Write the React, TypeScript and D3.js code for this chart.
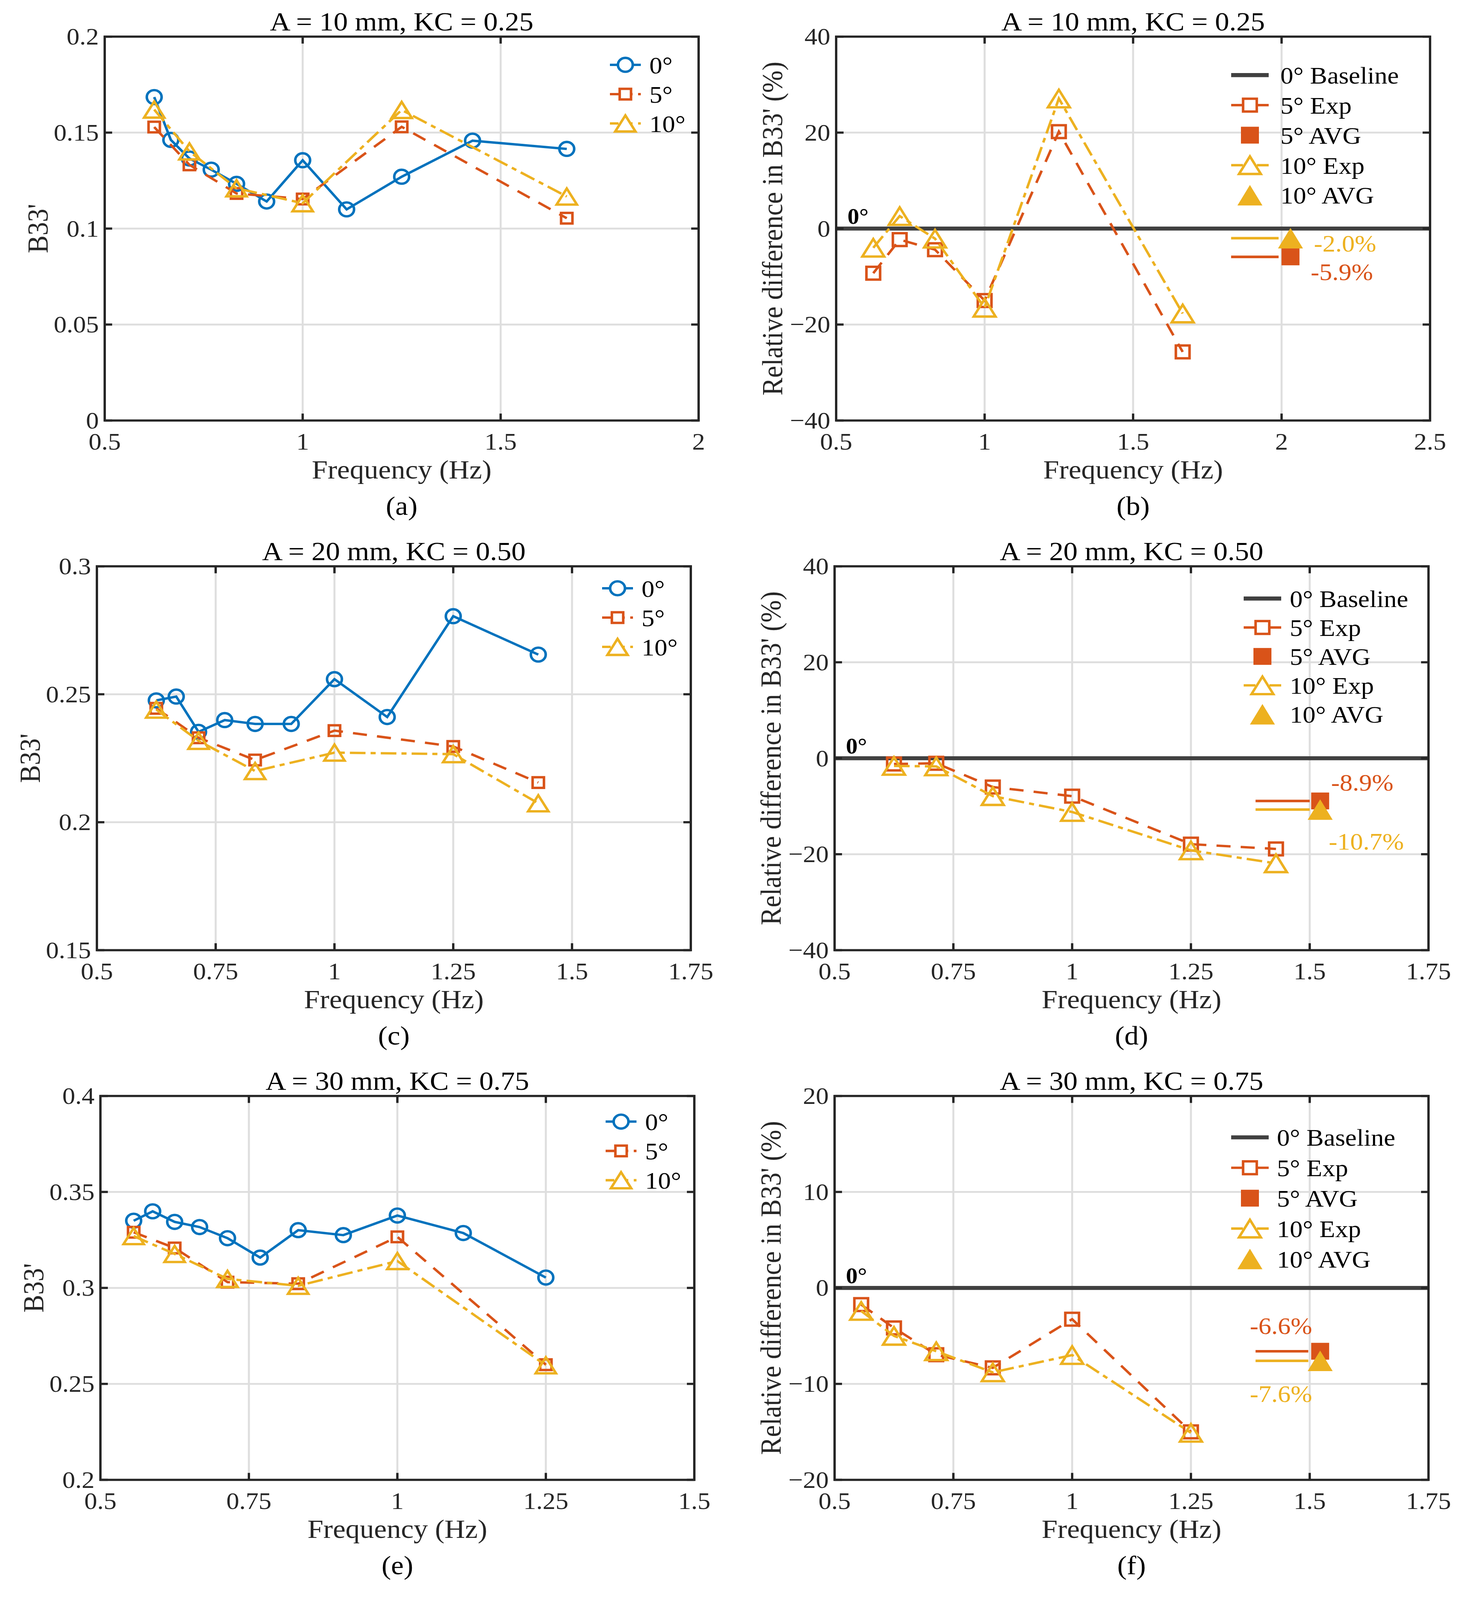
import * as d3 from "d3";

const FONT = "'Liberation Serif', 'Times New Roman', Times, serif";
const BLUE = "#0072BD";
const ORANGE = "#D95319";
const YELLOW = "#EDB120";
const AXIS = "#262626";
const GRID = "#dedede";
const BASE = "#404040";

// ---------- data ----------
// (a) A = 10 mm
const FREQ_A0 = [0.625, 0.667, 0.714, 0.769, 0.833, 0.909, 1.0, 1.111, 1.25, 1.429, 1.667];
const B33_A0 = [0.1685, 0.1462, 0.1365, 0.1307, 0.1233, 0.1141, 0.1356, 0.110, 0.127, 0.1458, 0.1415];
const FREQ_A_TILT = [0.625, 0.714, 0.833, 1.0, 1.25, 1.667];
const B33_A5 = [0.1529, 0.1332, 0.1183, 0.1154, 0.153, 0.1054];
const B33_A10 = [0.162, 0.1402, 0.121, 0.1132, 0.1618, 0.1167];
// (b)
const REL_B5 = [-9.3, -2.3, -4.4, -15.0, 20.2, -25.7];
const REL_B10 = [-4.0, 2.6, -2.1, -16.5, 27.1, -17.7];
const AVG_B = { a5: -5.9, a10: -2.0 };

// (c) A = 20 mm
const FREQ_C0 = [0.625, 0.667, 0.714, 0.769, 0.833, 0.909, 1.0, 1.111, 1.25, 1.429];
const B33_C0 = [0.2476, 0.2491, 0.2353, 0.2399, 0.2384, 0.2384, 0.2559, 0.2411, 0.2805, 0.2655];
const FREQ_C_TILT = [0.625, 0.714, 0.833, 1.0, 1.25, 1.429];
const B33_C5 = [0.2445, 0.233, 0.2243, 0.2358, 0.2296, 0.2155];
const B33_C10 = [0.244, 0.2318, 0.22, 0.2272, 0.2266, 0.2074];
// (d)
const REL_D5 = [-1.2, -1.05, -6.0, -7.9, -17.9, -18.9];
const REL_D10 = [-1.6, -1.7, -7.9, -11.2, -19.2, -21.9];
const AVG_D = { a5: -8.9, a10: -10.7 };

// (e) A = 30 mm
const FREQ_E0 = [0.556, 0.588, 0.625, 0.667, 0.714, 0.769, 0.833, 0.909, 1.0, 1.111, 1.25];
const B33_E0 = [0.335, 0.3399, 0.3344, 0.3317, 0.3259, 0.3158, 0.3301, 0.3275, 0.3377, 0.3286, 0.3054];
const FREQ_E_TILT = [0.556, 0.625, 0.714, 0.833, 1.0, 1.25];
const B33_E5 = [0.329, 0.3208, 0.303, 0.3022, 0.3266, 0.26];
const B33_E10 = [0.327, 0.3177, 0.3047, 0.3011, 0.314, 0.2597];
// (f)
const REL_F5 = [-1.74, -4.17, -6.96, -8.33, -3.26, -15.0];
const REL_F10 = [-2.4, -5.0, -6.6, -8.8, -7.0, -15.1];
const AVG_F = { a5: -6.6, a10: -7.6 };

// tick values
const XT_A = [0.5, 1, 1.5, 2];
const YT_A = [0, 0.05, 0.1, 0.15, 0.2];
const XT_B = [0.5, 1, 1.5, 2, 2.5];
const YT_REL40 = [-40, -20, 0, 20, 40];
const XT_C = [0.5, 0.75, 1, 1.25, 1.5, 1.75];
const YT_C = [0.15, 0.2, 0.25, 0.3];
const XT_E = [0.5, 0.75, 1, 1.25, 1.5];
const YT_E = [0.2, 0.25, 0.3, 0.35, 0.4];
const YT_F = [-20, -10, 0, 10, 20];

// ---------- layout ----------
const W = 3752;
const H = 4368;
const PW = 1520;
const PH = 1048;
const TOPS = [100, 1546, 2992];
const LEFTS_L = [268, 248, 257];
const LEFTS_R = [2140, 2136, 2136];

const LW = 6.5;
const DASH = "36 26";
const DASHDOT = "40 13 13 13";

type Mk = { kind: "o" | "s" | "^"; w: number; h: number };
const MK_O: Mk = { kind: "o", w: 38, h: 38 };
const MK_S_SMALL: Mk = { kind: "s", w: 29, h: 29 };
const MK_T_SMALL: Mk = { kind: "^", w: 52, h: 44 };
const MK_S_BIG: Mk = { kind: "s", w: 35, h: 35 };
const MK_T_BIG: Mk = { kind: "^", w: 56, h: 48 };
const MK_S_FILL: Mk = { kind: "s", w: 46, h: 46 };
const MK_T_FILL: Mk = { kind: "^", w: 64, h: 56 };

function marker(m: Mk, x: number, y: number, color: string, filled: boolean, key: string, fillBg = "none") {
  const common = {
    fill: filled ? color : fillBg,
    stroke: filled ? "none" : color,
    strokeWidth: LW,
  };
  if (m.kind === "o") return <circle key={key} cx={x} cy={y} r={m.w / 2} {...common} />;
  if (m.kind === "s")
    return <rect key={key} x={x - m.w / 2} y={y - m.h / 2} width={m.w} height={m.h} {...common} />;
  const d = `M${x},${y - m.h / 2}L${x + m.w / 2},${y + m.h / 2}L${x - m.w / 2},${y + m.h / 2}Z`;
  return <path key={key} d={d} strokeLinejoin="miter" {...common} />;
}

const fmt = (v: number) => (v < 0 ? "\u2212" + String(-v) : String(v));

interface FrameProps {
  left: number;
  top: number;
  x: d3.ScaleLinear<number, number>;
  y: d3.ScaleLinear<number, number>;
  xTicks: number[];
  yTicks: number[];
  title: string;
  yLabel: string;
  yLabelOff: number;
  tag: string;
  children: any;
}

function Frame({ left, top, x, y, xTicks, yTicks, title, yLabel, yLabelOff, tag, children }: FrameProps) {
  const bottom = top + PH;
  const right = left + PW;
  const cx = left + PW / 2;
  const TL = 19;
  return (
    <g>
      {xTicks.map((t) => (
        <line key={"gx" + t} x1={x(t)} x2={x(t)} y1={top} y2={bottom} stroke={GRID} strokeWidth={5} />
      ))}
      {yTicks.map((t) => (
        <line key={"gy" + t} x1={left} x2={right} y1={y(t)} y2={y(t)} stroke={GRID} strokeWidth={5} />
      ))}
      {children}
      <rect x={left} y={top} width={PW} height={PH} fill="none" stroke={AXIS} strokeWidth={6} />
      {xTicks.map((t) => (
        <g key={"tx" + t}>
          <line x1={x(t)} x2={x(t)} y1={bottom} y2={bottom - TL} stroke={AXIS} strokeWidth={6} />
          <line x1={x(t)} x2={x(t)} y1={top} y2={top + TL} stroke={AXIS} strokeWidth={6} />
          <text x={x(t)} y={bottom + 79} textAnchor="middle" fontSize={66} fill={AXIS}>
            {fmt(t)}
          </text>
        </g>
      ))}
      {yTicks.map((t) => (
        <g key={"ty" + t}>
          <line x1={left} x2={left + TL} y1={y(t)} y2={y(t)} stroke={AXIS} strokeWidth={6} />
          <line x1={right} x2={right - TL} y1={y(t)} y2={y(t)} stroke={AXIS} strokeWidth={6} />
          <text x={left - 15} y={y(t)} dy="0.33em" textAnchor="end" fontSize={66} fill={AXIS}>
            {fmt(t)}
          </text>
        </g>
      ))}
      <text x={cx} y={top - 17} textAnchor="middle" fontSize={73} fill="#000">
        {title}
      </text>
      <text x={cx} y={bottom + 158} textAnchor="middle" fontSize={73} fill={AXIS}>
        Frequency (Hz)
      </text>
      <text
        transform={`translate(${left - yLabelOff},${top + PH / 2}) rotate(-90)`}
        dy="0.35em"
        textAnchor="middle"
        fontSize={73}
        fill={AXIS}
      >
        {yLabel}
      </text>
      <text x={cx} y={bottom + 258} textAnchor="middle" fontSize={73} fill="#000">
        {tag}
      </text>
    </g>
  );
}

interface Series {
  name: string;
  freq: number[];
  vals: number[];
  color: string;
  dash?: string;
  mk: Mk;
}

interface AbsProps {
  left: number;
  top: number;
  xDom: [number, number];
  yDom: [number, number];
  xTicks: number[];
  yTicks: number[];
  title: string;
  tag: string;
  series: Series[];
  legendTop: number;
}

function AbsPanel(p: AbsProps) {
  const x = d3.scaleLinear().domain(p.xDom).range([p.left, p.left + PW]);
  const y = d3.scaleLinear().domain(p.yDom).range([p.top + PH, p.top]);
  const line = d3
    .line<[number, number]>()
    .x((d) => x(d[0]))
    .y((d) => y(d[1]));
  const right = p.left + PW;
  const lx0 = right - 227;
  const lx1 = right - 148;
  const tx = right - 126;
  return (
    <Frame
      left={p.left}
      top={p.top}
      x={x}
      y={y}
      xTicks={p.xTicks}
      yTicks={p.yTicks}
      title={p.title}
      yLabel="B33'"
      yLabelOff={172}
      tag={p.tag}
    >
      {p.series.map((s) => {
        const pts = s.freq.map((f, i) => [f, s.vals[i]] as [number, number]);
        return (
          <g key={s.name}>
            <path d={line(pts) ?? ""} fill="none" stroke={s.color} strokeWidth={LW} strokeDasharray={s.dash} />
            {pts.map((d, i) => marker(s.mk, x(d[0]), y(d[1]), s.color, false, s.name + i))}
          </g>
        );
      })}
      {p.series.map((s, i) => {
        const ry = p.top + p.legendTop + i * 80;
        return (
          <g key={"lg" + s.name}>
            <line x1={lx0} x2={lx1} y1={ry} y2={ry} stroke={s.color} strokeWidth={LW} strokeDasharray={s.dash ? "22 14" : undefined} />
            {marker(s.mk, (lx0 + lx1) / 2, ry, s.color, false, "lm" + i, "#fff")}
            <text x={tx} y={ry} dy="0.35em" fontSize={66} fill="#000">
              {s.name}
            </text>
          </g>
        );
      })}
    </Frame>
  );
}

interface RelProps {
  left: number;
  top: number;
  xDom: [number, number];
  yDom: [number, number];
  xTicks: number[];
  yTicks: number[];
  title: string;
  tag: string;
  freq: number[];
  rel5: number[];
  rel10: number[];
  avg: { a5: number; a10: number };
  avgX: number;
  avgLine: [number, number];
  lab5: [number, number];
  lab10: [number, number];
  legend: { top: number; step: number; l0: number; l1: number; tx: number };
}

function RelPanel(p: RelProps) {
  const x = d3.scaleLinear().domain(p.xDom).range([p.left, p.left + PW]);
  const y = d3.scaleLinear().domain(p.yDom).range([p.top + PH, p.top]);
  const line = d3
    .line<[number, number]>()
    .x((d) => x(d[0]))
    .y((d) => y(d[1]));
  const right = p.left + PW;
  const pts5 = p.freq.map((f, i) => [f, p.rel5[i]] as [number, number]);
  const pts10 = p.freq.map((f, i) => [f, p.rel10[i]] as [number, number]);
  const lg = p.legend;
  const l0 = right - lg.l0;
  const l1 = right - lg.l1;
  const lm = (l0 + l1) / 2;
  const tx = right - lg.tx;
  const ry = (i: number) => p.top + lg.top + i * lg.step;
  const pctTxt = (v: number) => v.toFixed(1) + "%";
  return (
    <Frame
      left={p.left}
      top={p.top}
      x={x}
      y={y}
      xTicks={p.xTicks}
      yTicks={p.yTicks}
      title={p.title}
      yLabel="Relative difference in B33' (%)"
      yLabelOff={164}
      tag={p.tag}
    >
      <line x1={p.left} x2={right} y1={y(0)} y2={y(0)} stroke={BASE} strokeWidth={11} />
      <text x={p.left + 29} y={y(0) - 13} fontSize={60} fontWeight="bold" fill="#000">
        0°
      </text>
      <path d={line(pts5) ?? ""} fill="none" stroke={ORANGE} strokeWidth={LW} strokeDasharray={DASH} />
      {pts5.map((d, i) => marker(MK_S_BIG, x(d[0]), y(d[1]), ORANGE, false, "s5" + i))}
      <path d={line(pts10) ?? ""} fill="none" stroke={YELLOW} strokeWidth={LW} strokeDasharray={DASHDOT} />
      {pts10.map((d, i) => marker(MK_T_BIG, x(d[0]), y(d[1]), YELLOW, false, "s10" + i))}

      <line x1={x(p.avgLine[0])} x2={x(p.avgLine[1])} y1={y(p.avg.a5)} y2={y(p.avg.a5)} stroke={ORANGE} strokeWidth={7} />
      <line x1={x(p.avgLine[0])} x2={x(p.avgLine[1])} y1={y(p.avg.a10)} y2={y(p.avg.a10)} stroke={YELLOW} strokeWidth={7} />
      {marker(MK_S_FILL, x(p.avgX), y(p.avg.a5), ORANGE, true, "a5")}
      {marker(MK_T_FILL, x(p.avgX), y(p.avg.a10), YELLOW, true, "a10")}
      <text x={x(p.lab5[0])} y={y(p.lab5[1])} dy="0.35em" fontSize={66} fill={ORANGE}>
        {pctTxt(p.avg.a5)}
      </text>
      <text x={x(p.lab10[0])} y={y(p.lab10[1])} dy="0.35em" fontSize={66} fill={YELLOW}>
        {pctTxt(p.avg.a10)}
      </text>

      {/* legend */}
      <line x1={l0} x2={l1} y1={ry(0)} y2={ry(0)} stroke={BASE} strokeWidth={11} />
      <text x={tx} y={ry(0)} dy="0.35em" fontSize={66} fill="#000">0° Baseline</text>
      <line x1={l0} x2={l1} y1={ry(1)} y2={ry(1)} stroke={ORANGE} strokeWidth={LW} strokeDasharray="34 28" />
      {marker(MK_S_BIG, lm, ry(1), ORANGE, false, "lg1", "#fff")}
      <text x={tx} y={ry(1)} dy="0.35em" fontSize={66} fill="#000">5° Exp</text>
      {marker(MK_S_FILL, lm, ry(2), ORANGE, true, "lg2")}
      <text x={tx} y={ry(2)} dy="0.35em" fontSize={66} fill="#000">5° AVG</text>
      <line x1={l0} x2={l1} y1={ry(3)} y2={ry(3)} stroke={YELLOW} strokeWidth={LW} strokeDasharray="30 36" />
      {marker(MK_T_BIG, lm, ry(3), YELLOW, false, "lg3", "#fff")}
      <text x={tx} y={ry(3)} dy="0.35em" fontSize={66} fill="#000">10° Exp</text>
      {marker(MK_T_FILL, lm, ry(4), YELLOW, true, "lg4")}
      <text x={tx} y={ry(4)} dy="0.35em" fontSize={66} fill="#000">10° AVG</text>
    </Frame>
  );
}

function absSeries(f0: number[], v0: number[], ft: number[], v5: number[], v10: number[]): Series[] {
  return [
    { name: "0°", freq: f0, vals: v0, color: BLUE, mk: MK_O },
    { name: "5°", freq: ft, vals: v5, color: ORANGE, dash: DASH, mk: MK_S_SMALL },
    { name: "10°", freq: ft, vals: v10, color: YELLOW, dash: DASHDOT, mk: MK_T_SMALL },
  ];
}

export default function App() {
  // fill whatever the visible page area is, so nothing is cut at the bottom
  return (
    <svg
      width="100vw"
      height="100vh"
      viewBox={`0 0 ${W} ${H}`}
      preserveAspectRatio="none"
      style={{ position: "absolute", left: 0, top: 0, display: "block", background: "#fff" }}
      fontFamily={FONT}
    >
      <rect width={W} height={H} fill="#fff" />
      <AbsPanel
        left={LEFTS_L[0]}
        top={TOPS[0]}
        xDom={[0.5, 2]}
        yDom={[0, 0.2]}
        xTicks={XT_A}
        yTicks={YT_A}
        title="A = 10 mm, KC = 0.25"
        tag="(a)"
        series={absSeries(FREQ_A0, B33_A0, FREQ_A_TILT, B33_A5, B33_A10)}
        legendTop={77}
      />
      <RelPanel
        left={LEFTS_R[0]}
        top={TOPS[0]}
        xDom={[0.5, 2.5]}
        yDom={[-40, 40]}
        xTicks={XT_B}
        yTicks={YT_REL40}
        title="A = 10 mm, KC = 0.25"
        tag="(b)"
        freq={FREQ_A_TILT}
        rel5={REL_B5}
        rel10={REL_B10}
        avg={AVG_B}
        avgX={2.03}
        avgLine={[1.83, 1.99]}
        lab5={[2.098, -9.0]}
        lab10={[2.109, -3.0]}
        legend={{ top: 105, step: 82, l0: 509, l1: 413, tx: 383 }}
      />
      <AbsPanel
        left={LEFTS_L[1]}
        top={TOPS[1]}
        xDom={[0.5, 1.75]}
        yDom={[0.15, 0.3]}
        xTicks={XT_C}
        yTicks={YT_C}
        title="A = 20 mm, KC = 0.50"
        tag="(c)"
        series={absSeries(FREQ_C0, B33_C0, FREQ_C_TILT, B33_C5, B33_C10)}
        legendTop={60}
      />
      <RelPanel
        left={LEFTS_R[1]}
        top={TOPS[1]}
        xDom={[0.5, 1.75]}
        yDom={[-40, 40]}
        xTicks={XT_C}
        yTicks={YT_REL40}
        title="A = 20 mm, KC = 0.50"
        tag="(d)"
        freq={FREQ_C_TILT}
        rel5={REL_D5}
        rel10={REL_D10}
        avg={AVG_D}
        avgX={1.522}
        avgLine={[1.386, 1.5]}
        lab5={[1.545, -5.0]}
        lab10={[1.54, -17.3]}
        legend={{ top: 88, step: 79, l0: 473, l1: 377, tx: 355 }}
      />
      <AbsPanel
        left={LEFTS_L[2]}
        top={TOPS[2]}
        xDom={[0.5, 1.5]}
        yDom={[0.2, 0.4]}
        xTicks={XT_E}
        yTicks={YT_E}
        title="A = 30 mm, KC = 0.75"
        tag="(e)"
        series={absSeries(FREQ_E0, B33_E0, FREQ_E_TILT, B33_E5, B33_E10)}
        legendTop={70}
      />
      <RelPanel
        left={LEFTS_R[2]}
        top={TOPS[2]}
        xDom={[0.5, 1.75]}
        yDom={[-20, 20]}
        xTicks={XT_C}
        yTicks={YT_F}
        title="A = 30 mm, KC = 0.75"
        tag="(f)"
        freq={FREQ_E_TILT}
        rel5={REL_F5}
        rel10={REL_F10}
        avg={AVG_F}
        avgX={1.522}
        avgLine={[1.386, 1.497]}
        lab5={[1.374, -3.9]}
        lab10={[1.374, -11.0]}
        legend={{ top: 113, step: 83, l0: 505, l1: 409, tx: 388 }}
      />
    </svg>
  );
}
